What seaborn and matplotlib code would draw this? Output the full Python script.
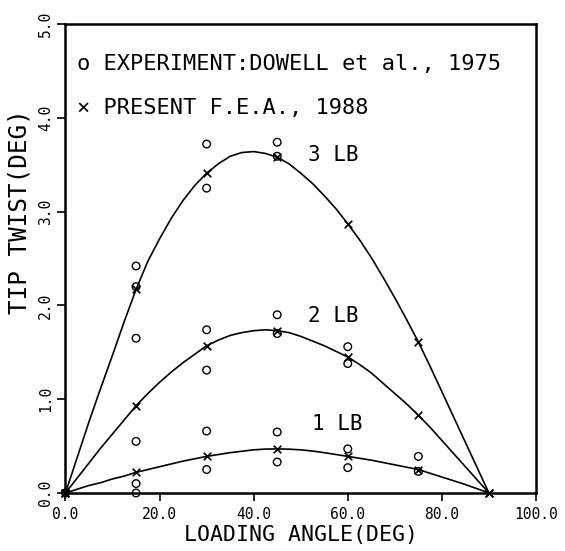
import matplotlib
matplotlib.use("Agg")
import matplotlib.pyplot as plt
import seaborn as sns
import pandas as pd

curve_angle = [0, 2.5, 5, 7.5, 10, 12.5, 15, 17.5, 20, 22.5, 25, 27.5, 30, 32.5,
               35, 37.5, 40, 42.5, 45, 47.5, 50, 52.5, 55, 57.5, 60, 62.5, 65,
               67.5, 70, 72.5, 75, 77.5, 80, 82.5, 85, 87.5, 90]
curve_3lb = [0, 0.38, 0.76, 1.12, 1.47, 1.83, 2.17, 2.47, 2.71, 2.93, 3.12, 3.28,
             3.41, 3.51, 3.59, 3.63, 3.64, 3.62, 3.58, 3.51, 3.41, 3.30, 3.17,
             3.03, 2.87, 2.70, 2.51, 2.30, 2.08, 1.85, 1.61, 1.35, 1.08, 0.81,
             0.54, 0.27, 0]
curve_2lb = [0, 0.16, 0.32, 0.48, 0.63, 0.78, 0.93, 1.06, 1.18, 1.29, 1.39, 1.48,
             1.57, 1.63, 1.68, 1.71, 1.73, 1.74, 1.73, 1.71, 1.67, 1.62, 1.57,
             1.51, 1.45, 1.37, 1.28, 1.17, 1.06, 0.95, 0.83, 0.70, 0.56, 0.42,
             0.28, 0.14, 0]
curve_1lb = [0, 0.04, 0.08, 0.11, 0.15, 0.18, 0.22, 0.25, 0.28, 0.31, 0.34, 0.365,
             0.39, 0.41, 0.43, 0.445, 0.46, 0.468, 0.47, 0.467, 0.46, 0.447, 0.43,
             0.41, 0.39, 0.37, 0.35, 0.325, 0.30, 0.275, 0.25, 0.21, 0.17, 0.13,
             0.09, 0.045, 0]

# Resultados F.E.A. (marcas x)
fea_angle = [0, 15, 30, 45, 60, 75, 90]
fea_3lb = [0, 2.17, 3.41, 3.58, 2.87, 1.61, 0]
fea_2lb = [0, 0.93, 1.57, 1.73, 1.45, 0.83, 0]
fea_1lb = [0, 0.22, 0.39, 0.47, 0.39, 0.25, 0]

# Experimento (circulos)
exp_angle = [0, 15, 15, 15, 15, 15, 15, 30, 30, 30, 30, 30, 30,
             45, 45, 45, 45, 45, 45, 60, 60, 60, 60, 75, 75]
exp_twist = [0, 2.42, 2.20, 1.65, 0.55, 0.10, 0.0, 3.72, 3.25, 1.74, 1.31, 0.66, 0.25,
             3.74, 3.59, 1.90, 1.70, 0.65, 0.33, 1.56, 1.38, 0.47, 0.27, 0.39, 0.23]

load_labels = ["3 LB", "2 LB", "1 LB"]
x_ticks = [0, 20, 40, 60, 80, 100]
y_ticks = [0, 1, 2, 3, 4, 5]

sns.set_style("ticks")
plt.rcParams["font.family"] = ["DejaVu Sans Mono", "DejaVu Sans"]
plt.rcParams["text.color"] = "black"
plt.rcParams["axes.labelcolor"] = "black"
plt.rcParams["xtick.color"] = "black"
plt.rcParams["ytick.color"] = "black"

df_curve = pd.DataFrame({
    "angle": curve_angle * 3,
    "twist": curve_3lb + curve_2lb + curve_1lb,
    "load": sum([[lb] * len(curve_angle) for lb in load_labels], []),
})
df_fea = pd.DataFrame({
    "angle": fea_angle * 3,
    "twist": fea_3lb + fea_2lb + fea_1lb,
})
df_exp = pd.DataFrame({"angle": exp_angle, "twist": exp_twist})

fig = plt.figure(figsize=(5.65, 5.51), dpi=100)
ax = fig.add_axes([0.1159, 0.1053, 0.8327, 0.8511])

sns.lineplot(data=df_curve, x="angle", y="twist", hue="load", units="load",
             estimator=None, palette=["black"] * 3, linewidth=1.2, legend=False,
             ax=ax, sort=False)
sns.scatterplot(data=df_exp, x="angle", y="twist", marker="o", s=30,
                facecolor="none", edgecolor="black", linewidth=1.0, ax=ax,
                clip_on=False, zorder=3)
sns.scatterplot(data=df_fea, x="angle", y="twist", marker="x", s=30,
                color="black", linewidth=1.2, ax=ax, clip_on=False, zorder=4)

ax.set_xlim(0, 100)
ax.set_ylim(0, 5)
ax.set_xticks(x_ticks)
ax.set_xticklabels([f"{v:.1f}" for v in x_ticks], fontsize=10.5)
ax.set_yticks(y_ticks)
ax.set_yticklabels([f"{v:.1f}" for v in y_ticks], fontsize=10.5, rotation=90,
                   va="center")
ax.tick_params(direction="out", length=6, width=1.2, color="black", pad=4)
ax.tick_params(axis="y", pad=3)
for s in ax.spines.values():
    s.set_linewidth(1.8)
    s.set_color("black")

ax.set_xlabel("LOADING ANGLE(DEG)", fontsize=15.5, labelpad=2)
ax.set_ylabel("TIP TWIST(DEG)", fontsize=17.5)
ax.yaxis.set_label_coords(-0.072, 0.6)

# Leyenda escrita como texto
ax.text(0.025, 0.915, "o EXPERIMENT:DOWELL et al., 1975", transform=ax.transAxes,
        fontsize=15.8, va="center", ha="left")
ax.text(0.025, 0.82, "\u00d7 PRESENT F.E.A., 1988", transform=ax.transAxes,
        fontsize=15.8, va="center", ha="left")

# Etiquetas de cada curva
ax.text(51.5, 3.6, "3 LB", fontsize=15, va="center", ha="left")
ax.text(51.5, 1.89, "2 LB", fontsize=15, va="center", ha="left")
ax.text(52.5, 0.74, "1 LB", fontsize=15, va="center", ha="left")

ax.set_facecolor("white")
fig.savefig("out.png", dpi=100, facecolor="white")
